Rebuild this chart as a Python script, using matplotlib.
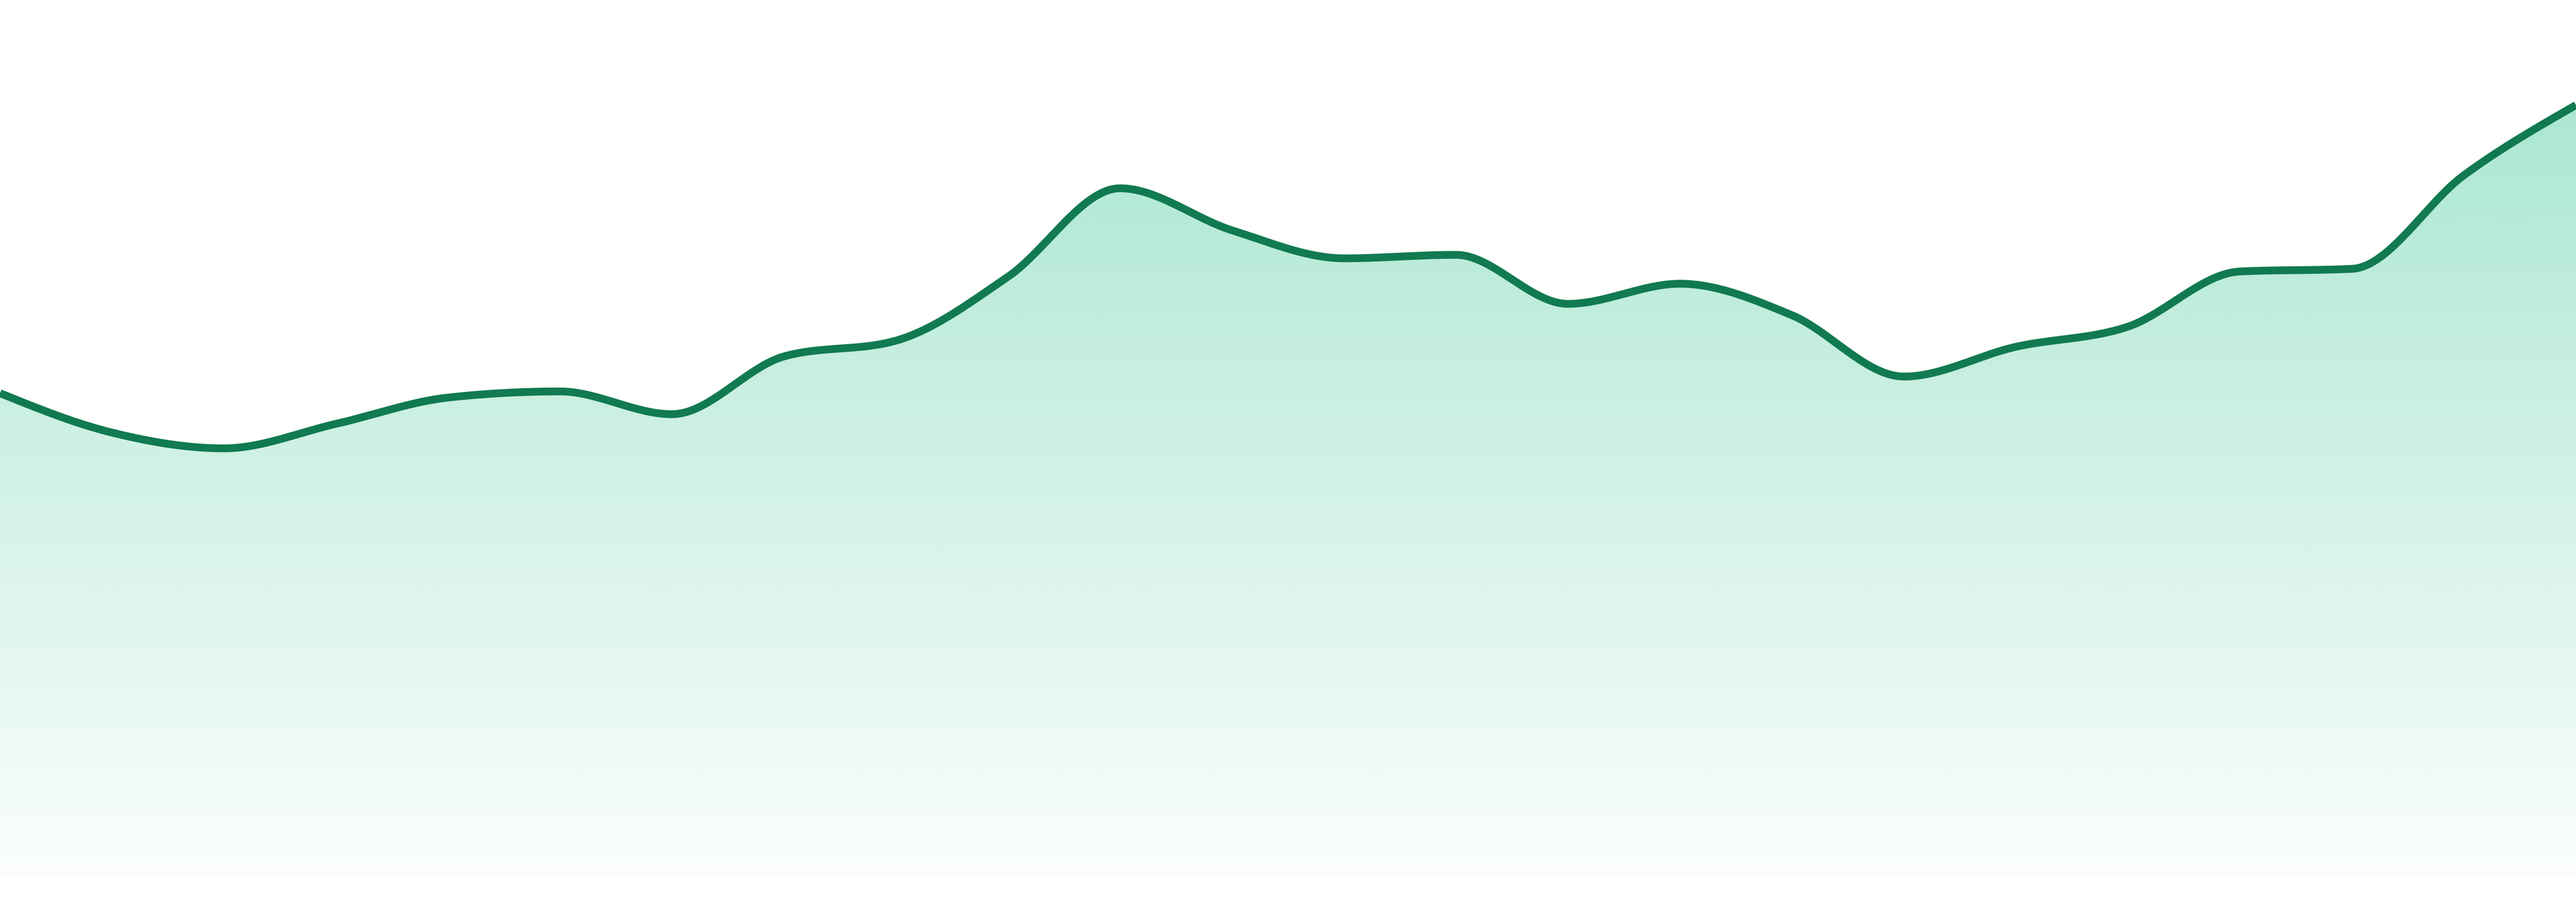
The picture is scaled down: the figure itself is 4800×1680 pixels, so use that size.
import numpy as np
import matplotlib
matplotlib.use("Agg")
import matplotlib.pyplot as plt

# Series values (one point per period)
periods = np.arange(24)
values = [55.1, 50.6, 48.8, 51.6, 54.6, 55.3, 52.7, 59.3, 61.1, 68.4, 78.5, 73.7,
          70.5, 70.9, 65.3, 67.6, 64.0, 57.0, 60.4, 62.7, 69.0, 69.3, 80.0, 88.0]

LINE_COLOR = "#117a50"
FILL_RGB = (16 / 255, 185 / 255, 129 / 255)


def monotone_x(x, y, n=40):
    """Monotone cubic curve through the points (same idea as d3.curveMonotoneX)."""
    x = np.asarray(x, float)
    y = np.asarray(y, float)
    h = np.diff(x)
    s = np.diff(y) / h
    t = np.zeros_like(y)
    for i in range(1, len(x) - 1):
        s0, s1 = s[i - 1], s[i]
        p = (s0 * h[i] + s1 * h[i - 1]) / (h[i - 1] + h[i])
        t[i] = (np.sign(s0) + np.sign(s1)) * min(abs(s0), abs(s1), 0.5 * abs(p))
    t[0] = (3 * s[0] - t[1]) / 2
    t[-1] = (3 * s[-1] - t[-2]) / 2

    xs, ys = [], []
    u = np.linspace(0, 1, n)
    for i in range(len(x) - 1):
        dx = h[i] / 3
        px = [x[i], x[i] + dx, x[i + 1] - dx, x[i + 1]]
        py = [y[i], y[i] + dx * t[i], y[i + 1] - dx * t[i + 1], y[i + 1]]
        b = [(1 - u) ** 3, 3 * u * (1 - u) ** 2, 3 * u ** 2 * (1 - u), u ** 3]
        xs.append(sum(bk * pk for bk, pk in zip(b, px)))
        ys.append(sum(bk * pk for bk, pk in zip(b, py)))
    return np.concatenate(xs), np.concatenate(ys)


fig = plt.figure(figsize=(48, 16.8), dpi=100)
ax = fig.add_axes([0, 49 / 1680, 1, 1 - 49 / 1680])
ax.set_xlim(periods[0], periods[-1])
ax.set_ylim(0, 100)
ax.axis("off")

cx, cy = monotone_x(periods, values)

# Gradient area under the curve
area = ax.fill_between(cx, cy, 0, facecolor="none", edgecolor="none")
top = max(values)
grad = np.zeros((256, 1, 4))
grad[:, 0, :3] = FILL_RGB
grad[:, 0, 3] = np.linspace(0.35, 0.02, 256)
img = ax.imshow(grad, extent=[periods[0], periods[-1], 0, top], origin="upper",
                aspect="auto", interpolation="bilinear", zorder=1)
img.set_clip_path(area.get_paths()[0], transform=ax.transData)

ax.plot(cx, cy, color=LINE_COLOR, lw=10.4, solid_capstyle="butt", zorder=2)

fig.savefig("out.png", dpi=100, facecolor="white")
